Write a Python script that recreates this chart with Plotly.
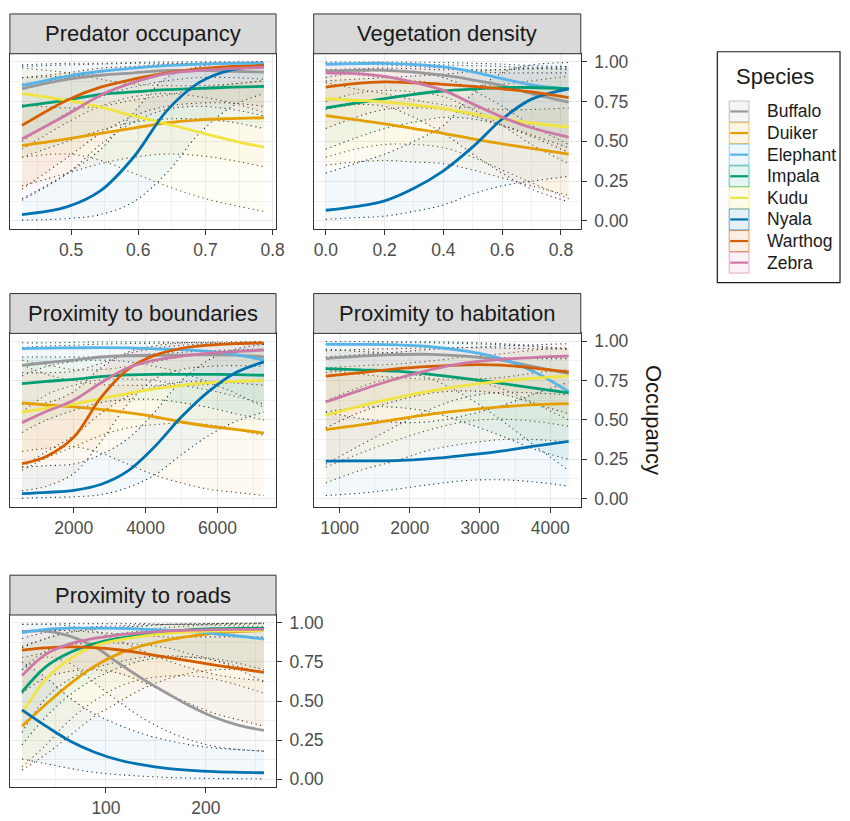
import plotly.graph_objects as go

W, H = 850, 821

SPECIES = ["Buffalo", "Duiker", "Elephant", "Impala", "Kudu", "Nyala", "Warthog", "Zebra"]
COLORS = ["#999999", "#E69F00", "#56B4E9", "#009E73", "#F0E442", "#0072B2", "#D55E00", "#CC79A7"]

Y_TICKS = [0.0, 0.25, 0.5, 0.75, 1.0]
Y_TICK_LABELS = ["0.00", "0.25", "0.50", "0.75", "1.00"]

# ---- Predator occupancy ----
PRED_X = [0.427, 0.495, 0.544, 0.593, 0.642, 0.691, 0.740, 0.787]
PRED_MEAN = {
    "Buffalo":  [0.83, 0.89, 0.915, 0.93, 0.945, 0.945, 0.94, 0.935],
    "Duiker":   [0.473, 0.515, 0.55, 0.583, 0.616, 0.635, 0.643, 0.648],
    "Elephant": [0.85, 0.91, 0.94, 0.96, 0.975, 0.985, 0.99, 0.99],
    "Impala":   [0.72, 0.76, 0.795, 0.81, 0.824, 0.832, 0.84, 0.845],
    "Kudu":     [0.80, 0.757, 0.715, 0.66, 0.61, 0.557, 0.505, 0.463],
    "Nyala":    [0.04, 0.09, 0.19, 0.40, 0.69, 0.87, 0.95, 0.975],
    "Warthog":  [0.60, 0.76, 0.84, 0.89, 0.93, 0.955, 0.97, 0.975],
    "Zebra":    [0.515, 0.67, 0.79, 0.87, 0.925, 0.945, 0.957, 0.965],
}
PRED_LO = {
    "Buffalo":  [0.45, 0.62, 0.72, 0.78, 0.80, 0.78, 0.74, 0.68],
    "Duiker":   [0.22, 0.30, 0.36, 0.40, 0.42, 0.41, 0.38, 0.34],
    "Elephant": [0.50, 0.68, 0.78, 0.84, 0.88, 0.90, 0.90, 0.89],
    "Impala":   [0.40, 0.50, 0.57, 0.62, 0.64, 0.64, 0.62, 0.58],
    "Kudu":     [0.40, 0.42, 0.38, 0.30, 0.22, 0.15, 0.10, 0.06],
    "Nyala":    [0.005, 0.015, 0.04, 0.12, 0.30, 0.55, 0.72, 0.80],
    "Warthog":  [0.20, 0.40, 0.55, 0.66, 0.72, 0.74, 0.74, 0.72],
    "Zebra":    [0.13, 0.30, 0.48, 0.62, 0.70, 0.72, 0.70, 0.66],
}
PRED_HI = {
    "Buffalo":  [0.97, 0.98, 0.985, 0.99, 0.99, 0.99, 0.99, 0.99],
    "Duiker":   [0.73, 0.71, 0.72, 0.76, 0.79, 0.83, 0.86, 0.88],
    "Elephant": [0.98, 0.99, 0.99, 0.995, 0.998, 0.999, 0.999, 0.999],
    "Impala":   [0.90, 0.91, 0.92, 0.93, 0.94, 0.95, 0.96, 0.97],
    "Kudu":     [0.96, 0.93, 0.89, 0.86, 0.85, 0.85, 0.86, 0.88],
    "Nyala":    [0.14, 0.30, 0.45, 0.68, 0.90, 0.97, 0.99, 0.999],
    "Warthog":  [0.90, 0.93, 0.96, 0.97, 0.985, 0.99, 0.995, 0.998],
    "Zebra":    [0.86, 0.90, 0.94, 0.96, 0.98, 0.99, 0.99, 0.995],
}

# ---- Vegetation density ----
VEG_X = [0.0, 0.1, 0.2, 0.3, 0.4, 0.5, 0.6, 0.7, 0.826]
VEG_MEAN = {
    "Buffalo":  [0.942, 0.946, 0.946, 0.935, 0.915, 0.885, 0.85, 0.80, 0.746],
    "Duiker":   [0.662, 0.636, 0.61, 0.58, 0.55, 0.515, 0.484, 0.455, 0.42],
    "Elephant": [0.984, 0.988, 0.99, 0.982, 0.967, 0.936, 0.894, 0.855, 0.83],
    "Impala":   [0.71, 0.74, 0.768, 0.795, 0.816, 0.828, 0.837, 0.838, 0.83],
    "Kudu":     [0.768, 0.758, 0.747, 0.728, 0.705, 0.672, 0.64, 0.615, 0.59],
    "Nyala":    [0.067, 0.09, 0.126, 0.205, 0.315, 0.465, 0.64, 0.765, 0.83],
    "Warthog":  [0.84, 0.862, 0.873, 0.868, 0.858, 0.845, 0.83, 0.81, 0.774],
    "Zebra":    [0.93, 0.925, 0.908, 0.87, 0.82, 0.735, 0.652, 0.585, 0.526],
}
VEG_LO = {
    "Buffalo":  [0.75, 0.80, 0.82, 0.81, 0.78, 0.70, 0.60, 0.48, 0.36],
    "Duiker":   [0.35, 0.37, 0.38, 0.37, 0.36, 0.32, 0.27, 0.22, 0.16],
    "Elephant": [0.90, 0.93, 0.95, 0.93, 0.90, 0.82, 0.72, 0.60, 0.48],
    "Impala":   [0.45, 0.52, 0.58, 0.62, 0.65, 0.64, 0.60, 0.54, 0.46],
    "Kudu":     [0.40, 0.45, 0.48, 0.48, 0.46, 0.40, 0.32, 0.24, 0.14],
    "Nyala":    [0.01, 0.02, 0.03, 0.06, 0.10, 0.17, 0.22, 0.25, 0.28],
    "Warthog":  [0.58, 0.65, 0.70, 0.71, 0.70, 0.66, 0.60, 0.53, 0.43],
    "Zebra":    [0.70, 0.73, 0.72, 0.65, 0.55, 0.42, 0.30, 0.20, 0.12],
}
VEG_HI = {
    "Buffalo":  [0.99, 0.99, 0.99, 0.985, 0.98, 0.975, 0.97, 0.96, 0.95],
    "Duiker":   [0.87, 0.83, 0.80, 0.76, 0.73, 0.71, 0.70, 0.70, 0.71],
    "Elephant": [0.998, 0.998, 0.998, 0.997, 0.995, 0.99, 0.985, 0.975, 0.97],
    "Impala":   [0.88, 0.89, 0.90, 0.91, 0.92, 0.94, 0.95, 0.96, 0.97],
    "Kudu":     [0.94, 0.92, 0.90, 0.88, 0.86, 0.85, 0.86, 0.88, 0.91],
    "Nyala":    [0.30, 0.36, 0.42, 0.50, 0.60, 0.80, 0.93, 0.98, 0.995],
    "Warthog":  [0.95, 0.955, 0.96, 0.955, 0.95, 0.95, 0.95, 0.955, 0.96],
    "Zebra":    [0.99, 0.985, 0.98, 0.97, 0.96, 0.94, 0.93, 0.93, 0.93],
}

# ---- Proximity to boundaries ----
BND_X = [561, 1250, 2000, 2750, 3500, 4250, 5000, 5750, 6500, 7293]
BND_MEAN = {
    "Buffalo":  [0.847, 0.865, 0.88, 0.90, 0.908, 0.91, 0.912, 0.914, 0.912, 0.90],
    "Duiker":   [0.608, 0.595, 0.583, 0.567, 0.546, 0.52, 0.487, 0.46, 0.44, 0.417],
    "Elephant": [0.953, 0.956, 0.958, 0.96, 0.958, 0.952, 0.947, 0.935, 0.915, 0.88],
    "Impala":   [0.731, 0.745, 0.758, 0.775, 0.786, 0.79, 0.79, 0.79, 0.788, 0.784],
    "Kudu":     [0.55, 0.575, 0.60, 0.636, 0.668, 0.697, 0.72, 0.737, 0.746, 0.752],
    "Nyala":    [0.032, 0.04, 0.053, 0.09, 0.175, 0.33, 0.52, 0.68, 0.80, 0.869],
    "Warthog":  [0.222, 0.27, 0.39, 0.64, 0.82, 0.91, 0.955, 0.975, 0.985, 0.99],
    "Zebra":    [0.483, 0.555, 0.625, 0.735, 0.83, 0.88, 0.905, 0.925, 0.935, 0.943],
}
BND_LO = {
    "Buffalo":  [0.55, 0.66, 0.72, 0.755, 0.76, 0.75, 0.72, 0.69, 0.65, 0.60],
    "Duiker":   [0.30, 0.32, 0.33, 0.29, 0.22, 0.15, 0.10, 0.06, 0.04, 0.02],
    "Elephant": [0.78, 0.84, 0.87, 0.88, 0.87, 0.84, 0.80, 0.74, 0.67, 0.58],
    "Impala":   [0.42, 0.50, 0.56, 0.61, 0.63, 0.63, 0.61, 0.58, 0.54, 0.50],
    "Kudu":     [0.18, 0.26, 0.33, 0.40, 0.45, 0.47, 0.48, 0.47, 0.44, 0.40],
    "Nyala":    [0.003, 0.007, 0.012, 0.025, 0.07, 0.15, 0.28, 0.40, 0.49, 0.55],
    "Warthog":  [0.05, 0.08, 0.16, 0.36, 0.60, 0.76, 0.82, 0.84, 0.845, 0.84],
    "Zebra":    [0.20, 0.30, 0.40, 0.54, 0.65, 0.71, 0.74, 0.745, 0.735, 0.72],
}
BND_HI = {
    "Buffalo":  [0.96, 0.97, 0.975, 0.982, 0.985, 0.987, 0.99, 0.99, 0.99, 0.99],
    "Duiker":   [0.85, 0.79, 0.75, 0.725, 0.72, 0.72, 0.72, 0.725, 0.74, 0.76],
    "Elephant": [0.99, 0.99, 0.993, 0.995, 0.995, 0.995, 0.993, 0.99, 0.985, 0.98],
    "Impala":   [0.90, 0.90, 0.90, 0.90, 0.91, 0.92, 0.93, 0.94, 0.945, 0.95],
    "Kudu":     [0.88, 0.85, 0.82, 0.82, 0.84, 0.87, 0.90, 0.92, 0.94, 0.95],
    "Nyala":    [0.20, 0.21, 0.22, 0.28, 0.38, 0.55, 0.75, 0.88, 0.95, 0.98],
    "Warthog":  [0.60, 0.61, 0.68, 0.83, 0.93, 0.97, 0.99, 0.994, 0.996, 0.998],
    "Zebra":    [0.80, 0.80, 0.81, 0.86, 0.92, 0.955, 0.975, 0.983, 0.987, 0.99],
}

# ---- Proximity to habitation ----
HAB_X = [803, 1300, 1800, 2300, 2800, 3300, 3800, 4263]
HAB_MEAN = {
    "Buffalo":  [0.89, 0.905, 0.915, 0.917, 0.905, 0.88, 0.835, 0.794],
    "Duiker":   [0.439, 0.468, 0.503, 0.537, 0.563, 0.583, 0.597, 0.604],
    "Elephant": [0.981, 0.98, 0.977, 0.965, 0.937, 0.89, 0.80, 0.68],
    "Impala":   [0.826, 0.818, 0.81, 0.79, 0.763, 0.733, 0.70, 0.672],
    "Kudu":     [0.53, 0.59, 0.64, 0.684, 0.72, 0.747, 0.766, 0.778],
    "Nyala":    [0.239, 0.24, 0.242, 0.254, 0.276, 0.302, 0.335, 0.364],
    "Warthog":  [0.778, 0.80, 0.824, 0.84, 0.85, 0.848, 0.828, 0.805],
    "Zebra":    [0.614, 0.69, 0.76, 0.82, 0.862, 0.885, 0.898, 0.905],
}
HAB_LO = {
    "Buffalo":  [0.62, 0.71, 0.77, 0.785, 0.76, 0.70, 0.60, 0.50],
    "Duiker":   [0.10, 0.18, 0.24, 0.31, 0.35, 0.375, 0.375, 0.36],
    "Elephant": [0.80, 0.82, 0.81, 0.76, 0.65, 0.50, 0.33, 0.18],
    "Impala":   [0.55, 0.58, 0.58, 0.55, 0.48, 0.40, 0.31, 0.25],
    "Kudu":     [0.20, 0.29, 0.37, 0.44, 0.49, 0.505, 0.49, 0.46],
    "Nyala":    [0.02, 0.035, 0.06, 0.09, 0.115, 0.12, 0.105, 0.08],
    "Warthog":  [0.45, 0.55, 0.62, 0.67, 0.685, 0.665, 0.60, 0.54],
    "Zebra":    [0.22, 0.34, 0.46, 0.57, 0.645, 0.675, 0.67, 0.66],
}
HAB_HI = {
    "Buffalo":  [0.98, 0.985, 0.99, 0.99, 0.985, 0.978, 0.965, 0.95],
    "Duiker":   [0.82, 0.79, 0.77, 0.76, 0.76, 0.77, 0.80, 0.82],
    "Elephant": [0.998, 0.998, 0.997, 0.996, 0.992, 0.985, 0.97, 0.95],
    "Impala":   [0.95, 0.935, 0.925, 0.915, 0.905, 0.895, 0.89, 0.89],
    "Kudu":     [0.83, 0.845, 0.855, 0.875, 0.90, 0.92, 0.945, 0.96],
    "Nyala":    [0.55, 0.51, 0.485, 0.49, 0.53, 0.59, 0.67, 0.74],
    "Warthog":  [0.94, 0.948, 0.953, 0.958, 0.96, 0.957, 0.952, 0.95],
    "Zebra":    [0.90, 0.915, 0.93, 0.948, 0.96, 0.97, 0.978, 0.985],
}

# ---- Proximity to roads ----
RD_X = [16, 40, 64, 88, 112, 137, 161, 185, 209, 233, 258]
RD_MEAN = {
    "Buffalo":  [0.944, 0.947, 0.915, 0.85, 0.745, 0.64, 0.55, 0.465, 0.395, 0.345, 0.3125],
    "Duiker":   [0.34, 0.48, 0.61, 0.72, 0.80, 0.855, 0.89, 0.915, 0.935, 0.945, 0.95],
    "Elephant": [0.9375, 0.958, 0.966, 0.966, 0.965, 0.96, 0.952, 0.944, 0.93, 0.915, 0.896],
    "Impala":   [0.558, 0.72, 0.81, 0.865, 0.90, 0.925, 0.945, 0.957, 0.963, 0.965, 0.965],
    "Kudu":     [0.42, 0.64, 0.77, 0.85, 0.89, 0.915, 0.932, 0.942, 0.948, 0.95, 0.95],
    "Nyala":    [0.444, 0.34, 0.245, 0.175, 0.125, 0.092, 0.07, 0.057, 0.049, 0.045, 0.042],
    "Warthog":  [0.825, 0.84, 0.846, 0.842, 0.828, 0.805, 0.78, 0.755, 0.73, 0.707, 0.683],
    "Zebra":    [0.6625, 0.80, 0.865, 0.9, 0.922, 0.937, 0.947, 0.953, 0.957, 0.958, 0.958],
}
RD_LO = {
    "Buffalo":  [0.70, 0.78, 0.74, 0.62, 0.50, 0.39, 0.31, 0.25, 0.21, 0.19, 0.18],
    "Duiker":   [0.06, 0.16, 0.28, 0.40, 0.49, 0.58, 0.64, 0.68, 0.70, 0.70, 0.69],
    "Elephant": [0.70, 0.82, 0.86, 0.87, 0.87, 0.86, 0.84, 0.80, 0.76, 0.70, 0.62],
    "Impala":   [0.22, 0.40, 0.54, 0.64, 0.71, 0.76, 0.78, 0.78, 0.77, 0.74, 0.70],
    "Kudu":     [0.08, 0.22, 0.38, 0.50, 0.59, 0.64, 0.66, 0.66, 0.64, 0.60, 0.55],
    "Nyala":    [0.13, 0.10, 0.07, 0.045, 0.03, 0.02, 0.012, 0.008, 0.005, 0.004, 0.003],
    "Warthog":  [0.55, 0.65, 0.69, 0.70, 0.68, 0.62, 0.55, 0.48, 0.42, 0.38, 0.34],
    "Zebra":    [0.30, 0.52, 0.64, 0.71, 0.75, 0.78, 0.79, 0.78, 0.76, 0.72, 0.68],
}
RD_HI = {
    "Buffalo":  [0.99, 0.99, 0.98, 0.95, 0.89, 0.82, 0.76, 0.71, 0.67, 0.645, 0.63],
    "Duiker":   [0.78, 0.81, 0.86, 0.90, 0.93, 0.95, 0.97, 0.98, 0.99, 0.99, 0.995],
    "Elephant": [0.99, 0.993, 0.995, 0.995, 0.995, 0.995, 0.99, 0.99, 0.985, 0.98, 0.975],
    "Impala":   [0.84, 0.90, 0.94, 0.96, 0.97, 0.98, 0.99, 0.99, 0.995, 0.995, 0.998],
    "Kudu":     [0.85, 0.90, 0.94, 0.96, 0.97, 0.98, 0.99, 0.99, 0.995, 0.997, 0.998],
    "Nyala":    [0.75, 0.65, 0.52, 0.42, 0.35, 0.29, 0.25, 0.22, 0.20, 0.19, 0.18],
    "Warthog":  [0.95, 0.95, 0.95, 0.94, 0.93, 0.92, 0.91, 0.91, 0.91, 0.91, 0.91],
    "Zebra":    [0.90, 0.94, 0.96, 0.975, 0.98, 0.99, 0.99, 0.995, 0.995, 0.997, 0.998],
}

PANELS = [
    dict(title="Predator occupancy", x=PRED_X, mean=PRED_MEAN, lo=PRED_LO, hi=PRED_HI,
         xticks=[0.5, 0.6, 0.7, 0.8], xlabels=["0.5", "0.6", "0.7", "0.8"]),
    dict(title="Vegetation density", x=VEG_X, mean=VEG_MEAN, lo=VEG_LO, hi=VEG_HI,
         xticks=[0.0, 0.2, 0.4, 0.6, 0.8], xlabels=["0.0", "0.2", "0.4", "0.6", "0.8"]),
    dict(title="Proximity to boundaries", x=BND_X, mean=BND_MEAN, lo=BND_LO, hi=BND_HI,
         xticks=[2000, 4000, 6000], xlabels=["2000", "4000", "6000"]),
    dict(title="Proximity to habitation", x=HAB_X, mean=HAB_MEAN, lo=HAB_LO, hi=HAB_HI,
         xticks=[1000, 2000, 3000, 4000], xlabels=["1000", "2000", "3000", "4000"]),
    dict(title="Proximity to roads", x=RD_X, mean=RD_MEAN, lo=RD_LO, hi=RD_HI,
         xticks=[100, 200], xlabels=["100", "200"]),
]

# Panel boxes in pixels: (left, right, plot top, plot bottom); strip sits above plot top
BOXES = [(10, 279, 52, 228), (317, 587, 52, 228),
         (10, 279, 333, 507), (317, 587, 333, 507),
         (10, 279, 616, 789)]
STRIP_H = 40
Y_LABELLED = [False, True, False, True, True]

FONT = "Liberation Sans, Arial, Helvetica, sans-serif"
BORDER = "#333333"
GRID = "#EBEBEB"
TICK_TXT = "#4D4D4D"


def fx(p):
    return p / W


def fy(p):
    return 1 - p / H


def rgba(hex_color, a):
    h = hex_color.lstrip("#")
    r, g, b = int(h[0:2], 16), int(h[2:4], 16), int(h[4:6], 16)
    return f"rgba({r},{g},{b},{a})"


def dotted_color(hex_color):
    h = hex_color.lstrip("#")
    r, g, b = int(h[0:2], 16), int(h[2:4], 16), int(h[4:6], 16)
    r, g, b = (int(0.3 * c + 0.7 * 30) for c in (r, g, b))
    return f"rgb({r},{g},{b})"


def midpoints(vals, lo, hi):
    step = vals[1] - vals[0]
    out = [v - step / 2 for v in vals] + [vals[-1] + step / 2]
    return [v for v in out if lo <= v <= hi]


fig = go.Figure()
shapes, annotations = [], []
layout_axes = {}
DOT = "1.2px,3.5px"

for i, (panel, box) in enumerate(zip(PANELS, BOXES)):
    k = "" if i == 0 else str(i + 1)
    xref, yref = f"x{k}", f"y{k}"
    xs = panel["x"]
    span = max(xs) - min(xs)
    xr = [min(xs) - 0.05 * span, max(xs) + 0.05 * span]
    yr = [-0.05, 1.05]

    # confidence ribbons underneath every line
    for sp, col in zip(SPECIES, COLORS):
        fig.add_trace(go.Scatter(
            x=xs, y=panel["lo"][sp], xaxis=xref, yaxis=yref, mode="lines",
            line=dict(color=dotted_color(col), width=1.1, dash=DOT, shape="spline", smoothing=1.0),
            showlegend=False, hoverinfo="skip"))
        fig.add_trace(go.Scatter(
            x=xs, y=panel["hi"][sp], xaxis=xref, yaxis=yref, mode="lines",
            fill="tonexty", fillcolor=rgba(col, 0.05),
            line=dict(color=dotted_color(col), width=1.1, dash=DOT, shape="spline", smoothing=1.0),
            showlegend=False, hoverinfo="skip"))
    # fitted occupancy lines
    for sp, col in zip(SPECIES, COLORS):
        fig.add_trace(go.Scatter(
            x=xs, y=panel["mean"][sp], xaxis=xref, yaxis=yref, mode="lines",
            line=dict(color=col, width=2.8, shape="spline", smoothing=1.0),
            name=sp, showlegend=False))

    left, right, top, bottom = box
    labelled = Y_LABELLED[i]
    layout_axes[f"xaxis{k}"] = dict(
        domain=[fx(left), fx(right)], range=xr, anchor=yref,
        tickmode="array", tickvals=panel["xticks"], ticktext=panel["xlabels"],
        ticks="outside", ticklen=5, tickwidth=1, tickcolor=BORDER,
        tickfont=dict(family=FONT, size=17.5, color=TICK_TXT),
        showline=True, linecolor=BORDER, linewidth=1, mirror=True,
        showgrid=True, gridcolor=GRID, gridwidth=1, zeroline=False,
        minor=dict(tickmode="array", tickvals=midpoints(panel["xticks"], xr[0], xr[1]),
                   showgrid=True, gridcolor="#F2F2F2", gridwidth=0.6, ticks=""),
    )
    layout_axes[f"yaxis{k}"] = dict(
        domain=[fy(bottom), fy(top)], range=yr, anchor=xref, side="right",
        tickmode="array", tickvals=Y_TICKS, ticktext=Y_TICK_LABELS,
        showticklabels=labelled, ticks="outside" if labelled else "",
        ticklen=5, tickwidth=1, tickcolor=BORDER, ticklabelstandoff=4,
        tickfont=dict(family=FONT, size=17.5, color=TICK_TXT),
        showline=True, linecolor=BORDER, linewidth=1, mirror=True,
        showgrid=True, gridcolor=GRID, gridwidth=1, zeroline=False,
        minor=dict(tickmode="array", tickvals=[0.125, 0.375, 0.625, 0.875],
                   showgrid=True, gridcolor="#F2F2F2", gridwidth=0.6, ticks=""),
    )

    # facet strip
    shapes.append(dict(type="rect", xref="paper", yref="paper",
                       x0=fx(left), x1=fx(right), y0=fy(top), y1=fy(top - STRIP_H),
                       fillcolor="#D9D9D9", line=dict(color=BORDER, width=1), layer="above"))
    annotations.append(dict(xref="paper", yref="paper", x=fx((left + right) / 2),
                            y=fy(top - STRIP_H / 2), text=panel["title"], showarrow=False,
                            xanchor="center", yanchor="middle",
                            font=dict(family=FONT, size=22, color="#1A1A1A")))

# shared y-axis title on the right
annotations.append(dict(xref="paper", yref="paper", x=fx(660), y=fy(420), text="Occupancy",
                        textangle=90, showarrow=False, xanchor="center", yanchor="middle",
                        font=dict(family=FONT, size=22, color="#1A1A1A")))

# legend box
LEG_LEFT, LEG_RIGHT, LEG_TOP, LEG_BOTTOM = 725, 849, 50, 282
shapes.append(dict(type="rect", xref="paper", yref="paper",
                   x0=fx(LEG_LEFT), x1=fx(LEG_RIGHT), y0=fy(LEG_BOTTOM), y1=fy(LEG_TOP),
                   fillcolor="white", line=dict(color="#1A1A1A", width=1.2)))
annotations.append(dict(xref="paper", yref="paper", x=fx(742), y=fy(75), text="Species",
                        showarrow=False, xanchor="left", yanchor="middle",
                        font=dict(family=FONT, size=22, color="#1A1A1A")))
for j, (sp, col) in enumerate(zip(SPECIES, COLORS)):
    yc = 110 + 21.7 * j
    shapes.append(dict(type="rect", xref="paper", yref="paper",
                       x0=fx(737), x1=fx(757), y0=fy(yc + 10.5), y1=fy(yc - 10.5),
                       fillcolor=rgba(col, 0.10), line=dict(color=rgba(col, 0.6), width=1)))
    shapes.append(dict(type="line", xref="paper", yref="paper",
                       x0=fx(738), x1=fx(756), y0=fy(yc), y1=fy(yc),
                       line=dict(color=col, width=2.2)))
    annotations.append(dict(xref="paper", yref="paper", x=fx(773), y=fy(yc), text=sp,
                            showarrow=False, xanchor="left", yanchor="middle",
                            font=dict(family=FONT, size=17.5, color="#1A1A1A")))

fig.update_layout(
    width=W, height=H, margin=dict(l=0, r=0, t=0, b=0),
    paper_bgcolor="white", plot_bgcolor="white",
    showlegend=False, shapes=shapes, annotations=annotations,
    font=dict(family=FONT),
    **layout_axes,
)

fig.write_html("out.html")
